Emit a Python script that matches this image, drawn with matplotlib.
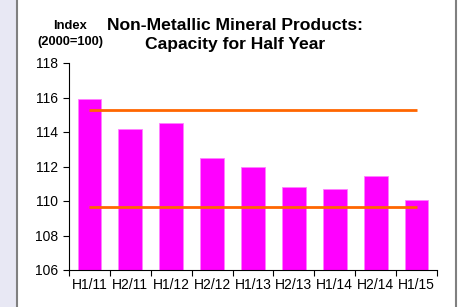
import matplotlib
matplotlib.use("Agg")
import matplotlib.pyplot as plt
from matplotlib.patches import Rectangle
from matplotlib.lines import Line2D
import numpy as np

categories = ["H1/11", "H2/11", "H1/12", "H2/12", "H1/13", "H2/13", "H1/14", "H2/14", "H1/15"]
values = [115.9, 114.2, 114.5, 112.5, 111.95, 110.8, 110.7, 111.45, 110.05]
upper_line = 115.28
lower_line = 109.65
yticks = [106, 108, 110, 112, 114, 116, 118]

plt.rcParams['font.family'] = ['Liberation Sans', 'DejaVu Sans']

fig = plt.figure(figsize=(4.62, 3.07), dpi=100)
fig.patch.set_facecolor('white')

# left lavender strip and frame lines
fig.patches.append(Rectangle((0, 0), 16/462, 1, transform=fig.transFigure,
                             facecolor='#e8e8f4', edgecolor='none', zorder=0))
fig.lines.append(Line2D([16.5/462, 16.5/462], [0, 1], transform=fig.transFigure,
                        color='#808080', lw=1.5))
fig.lines.append(Line2D([455.5/462, 455.5/462], [0, 1], transform=fig.transFigure,
                        color='#808080', lw=1.5))

ax = fig.add_axes([69/462, 1-270/307, (437-69)/462, (270-63)/307])
x = np.arange(len(categories))
ax.bar(x, values, width=0.58, bottom=0, color='#ff00ff', edgecolor='#ff80ff', linewidth=0.6, zorder=2)
ax.plot([x[0], x[-1]], [upper_line, upper_line], color='#ff6600', lw=2, zorder=3, solid_capstyle='butt')
ax.plot([x[0], x[-1]], [lower_line, lower_line], color='#ff6600', lw=2, zorder=3, solid_capstyle='butt')

ax.set_ylim(106, 118)
ax.set_xlim(-0.5, len(categories) - 0.5)
ax.set_yticks(yticks)
ax.set_yticklabels([str(t) for t in yticks], fontsize=10)
ax.set_xticks(np.arange(-0.5, len(categories)), minor=False)
ax.set_xticklabels([])
ax.set_xticks(x, minor=True)
ax.set_xticklabels(categories, minor=True, fontsize=10)
ax.tick_params(axis='x', which='minor', length=0, pad=6)
ax.tick_params(axis='x', which='major', length=4, direction='out', width=0.8)
ax.tick_params(axis='y', length=4, direction='out', width=0.8, pad=4)
for s in ['top', 'right']:
    ax.spines[s].set_visible(False)

fig.text(235/462, 1-25/307, "Non-Metallic Mineral Products:", ha='center', va='center',
         fontsize=12.6, fontweight='bold')
fig.text(235/462, 1-45/307, "Capacity for Half Year", ha='center', va='center',
         fontsize=12.6, fontweight='bold')
fig.text(70/462, 1-26/307, "Index", ha='center', va='center', fontsize=9.3, fontweight='bold')
fig.text(70/462, 1-42/307, "(2000=100)", ha='center', va='center', fontsize=9.3, fontweight='bold')

fig.savefig("out.png", dpi=100)
